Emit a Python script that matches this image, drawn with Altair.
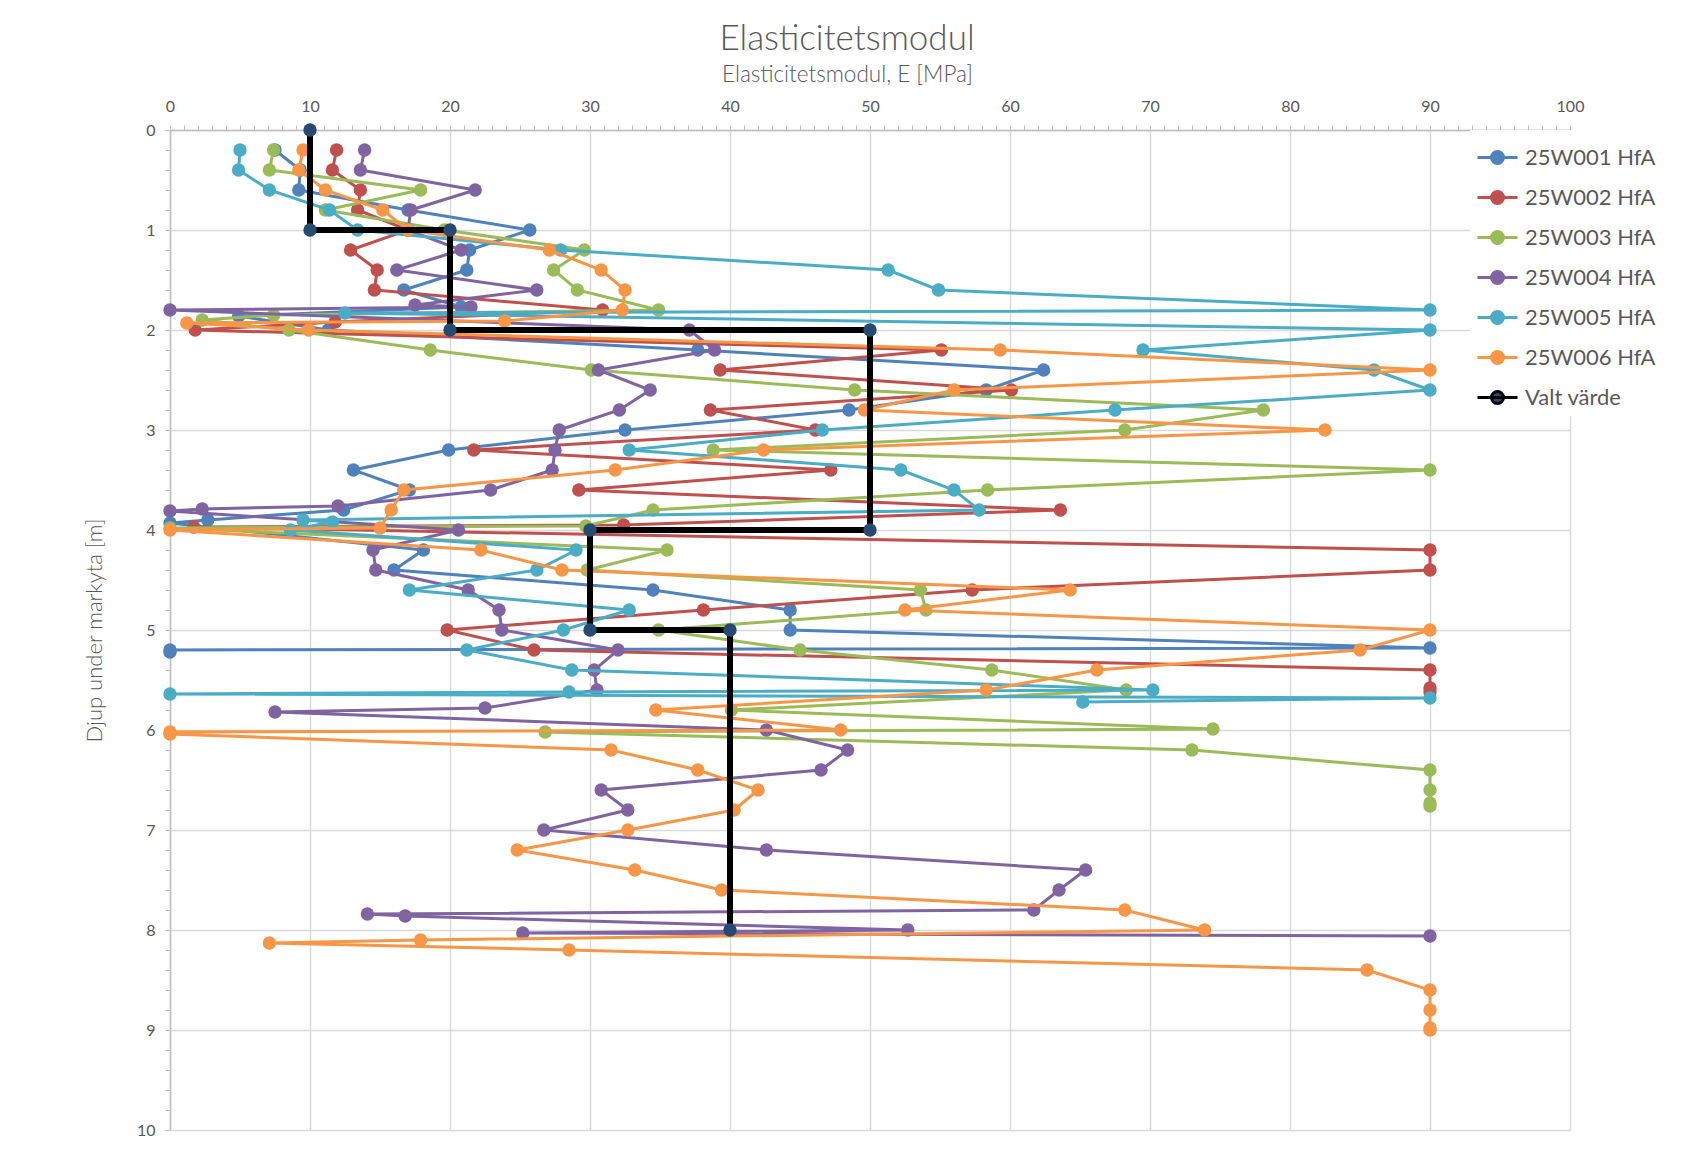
import altair as alt
import pandas as pd

SERIES = ["25W001 HfA", "25W002 HfA", "25W003 HfA", "25W004 HfA",
          "25W005 HfA", "25W006 HfA", "Valt värde"]
STROKES = ["#4F81BD", "#C0504D", "#9BBB59", "#8064A2", "#4BACC6", "#F79646", "#000000"]
FILLS = ["#4F81BD", "#C0504D", "#9BBB59", "#8064A2", "#4BACC6", "#F79646", "#264A70"]

# 25W001 HfA
d1 = [0.2, 0.4, 0.6, 0.8, 1.0, 1.2, 1.4, 1.6, 1.77, 1.86, 2.0, 2.2, 2.4, 2.6, 2.8, 3.0,
      3.2, 3.4, 3.6, 3.8, 3.9, 3.93, 4.2, 4.4, 4.6, 4.8, 5.0, 5.18, 5.2, 5.22]
e1 = [7.5, 9.3, 9.2, 17.0, 25.7, 21.4, 21.2, 16.7, 20.8, 4.9, 11.3, 37.7, 62.4, 58.3, 48.5, 32.5,
      19.9, 13.1, 17.1, 12.4, 2.7, 0.0, 18.1, 16.0, 34.5, 44.3, 44.3, 90.0, 0.0, 0.0]
# 25W002 HfA
d2 = [0.2, 0.4, 0.6, 0.8, 1.0, 1.2, 1.4, 1.6, 1.8, 1.92, 2.0, 2.2, 2.4, 2.6, 2.8, 3.0,
      3.2, 3.4, 3.6, 3.8, 3.95, 3.97, 4.2, 4.4, 4.6, 4.8, 5.0, 5.2, 5.4, 5.58, 5.62]
e2 = [11.9, 11.6, 13.6, 13.4, 17.0, 12.9, 14.8, 14.6, 30.9, 11.8, 1.8, 55.1, 39.3, 60.1, 38.6, 46.1,
      21.7, 47.2, 29.2, 63.6, 32.4, 1.7, 90.0, 90.0, 57.3, 38.1, 19.8, 26.0, 90.0, 90.0, 90.0]
# 25W003 HfA
d3 = [0.2, 0.4, 0.6, 0.8, 1.0, 1.2, 1.4, 1.6, 1.8, 1.85, 1.9, 2.0, 2.2, 2.4, 2.6, 2.8, 3.0,
      3.2, 3.4, 3.6, 3.8, 3.96, 3.98, 4.2, 4.4, 4.6, 4.8, 5.0, 5.2, 5.4, 5.6, 5.8, 5.99, 6.02,
      6.2, 6.4, 6.6, 6.73, 6.76]
e3 = [7.4, 7.1, 17.9, 11.1, 19.6, 29.6, 27.4, 29.1, 34.9, 7.4, 2.3, 8.5, 18.6, 30.1, 48.9, 78.1, 68.2,
      38.8, 90.0, 58.4, 34.5, 29.7, 0.0, 35.5, 29.8, 53.6, 54.0, 34.9, 45.0, 58.7, 68.3, 40.1, 74.5, 26.8,
      73.0, 90.0, 90.0, 90.0, 90.0]
# 25W004 HfA
d4 = [0.2, 0.4, 0.6, 0.8, 1.0, 1.2, 1.4, 1.6, 1.75, 1.77, 1.8, 2.0, 2.2, 2.4, 2.6, 2.8, 3.0,
      3.2, 3.4, 3.6, 3.76, 3.79, 3.81, 4.0, 4.2, 4.4, 4.6, 4.8, 5.0, 5.2, 5.4, 5.6, 5.78, 5.82,
      6.0, 6.2, 6.4, 6.6, 6.8, 7.0, 7.2, 7.4, 7.6, 7.8, 7.84, 7.86, 8.0, 8.03, 8.06]
e4 = [13.9, 13.6, 21.8, 17.2, 17.0, 20.8, 16.2, 26.2, 17.5, 21.5, 0.0, 37.1, 38.9, 30.6, 34.3, 32.1, 27.8,
      27.5, 27.3, 22.9, 12.0, 2.3, 0.0, 20.6, 14.5, 14.7, 21.3, 23.5, 23.7, 32.0, 30.3, 30.5, 22.5, 7.5,
      42.6, 48.4, 46.5, 30.8, 32.7, 26.7, 42.6, 65.4, 63.5, 61.7, 14.1, 16.8, 52.7, 25.2, 90.0]
# 25W005 HfA
d5 = [0.2, 0.4, 0.6, 0.8, 1.0, 1.2, 1.4, 1.6, 1.8, 1.83, 2.0, 2.2, 2.4, 2.6, 2.8, 3.0,
      3.2, 3.4, 3.6, 3.8, 3.9, 3.92, 4.0, 4.2, 4.4, 4.6, 4.8, 5.0, 5.2, 5.4, 5.6, 5.62, 5.64,
      5.68, 5.72]
e5 = [5.0, 4.9, 7.1, 11.4, 13.4, 27.9, 51.3, 54.9, 90.0, 12.5, 90.0, 69.5, 86.0, 90.0, 67.5, 46.6,
      32.8, 52.2, 56.0, 57.8, 9.5, 11.6, 8.6, 29.0, 26.2, 17.1, 32.8, 28.1, 21.2, 28.7, 70.2, 28.5, 0.0,
      90.0, 65.2]
# 25W006 HfA
d6 = [0.2, 0.4, 0.6, 0.8, 1.0, 1.2, 1.4, 1.6, 1.8, 1.91, 1.93, 2.0, 2.2, 2.4, 2.6, 2.8, 3.0,
      3.2, 3.4, 3.6, 3.8, 3.98, 4.0, 4.2, 4.4, 4.6, 4.8, 5.0, 5.2, 5.4, 5.6, 5.8, 6.0, 6.02, 6.04,
      6.2, 6.4, 6.6, 6.8, 7.0, 7.2, 7.4, 7.6, 7.8, 8.0, 8.1, 8.13, 8.2, 8.4, 8.6, 8.8, 8.98, 9.0]
e6 = [9.5, 9.2, 11.1, 15.2, 17.0, 27.1, 30.8, 32.5, 32.3, 23.9, 1.2, 9.9, 59.3, 90.0, 56.0, 49.6, 82.5,
      42.4, 31.8, 16.7, 15.8, 15.0, 0.0, 22.2, 28.0, 64.3, 52.5, 90.0, 85.0, 66.2, 58.3, 34.7, 47.9, 0.0, 0.0,
      31.5, 37.7, 42.0, 40.3, 32.7, 24.8, 33.2, 39.4, 68.2, 73.9, 17.9, 7.1, 28.5, 85.5, 90.0, 90.0, 90.0, 90.0]
# Valt värde
dv = [0, 1, 1, 2, 2, 4, 4, 5, 5, 8]
ev = [10, 10, 20, 20, 50, 50, 30, 30, 40, 40]

X_TICKS = list(range(0, 101))
Y_TICKS = [round(i * 0.2, 1) for i in range(51)]

rows = []
for name, ds, es in zip(SERIES, [d1, d2, d3, d4, d5, d6, dv], [e1, e2, e3, e4, e5, e6, ev]):
    for i, (d, e) in enumerate(zip(ds, es)):
        rows.append({"serie": name, "i": i, "djup": d, "E": e})
df = pd.DataFrame(rows)

FONT = "Lato"
GRAY = "#595959"
AXIS_GRAY = "#BFBFBF"
GRID = "#D9D9D9"

x_enc = alt.X(
    "E:Q",
    scale=alt.Scale(domain=[0, 100], nice=False, zero=False),
    axis=alt.Axis(
        orient="top", values=X_TICKS, title="Elasticitetsmodul, E [MPa]",
        labelExpr="datum.value % 10 === 0 ? datum.label : ''",
        gridOpacity={"condition": {"test": "datum.value % 10 === 0", "value": 1}, "value": 0},
        gridColor=GRID, gridWidth=1.5, domainColor=AXIS_GRAY, domainWidth=1.5,
        tickColor=AXIS_GRAY, tickSize=5, tickWidth=1,
        labelFont=FONT, labelFontSize=16, labelColor=GRAY, labelPadding=11,
        labelOverlap=False, labelFlush=False, labelBound=False,
        titleFont=FONT, titleFontSize=22.5, titleFontWeight=300, titleColor=GRAY,
        titlePadding=12, titleX=677,
    ),
)
y_test = "abs(datum.value - round(datum.value)) < 0.01"
y_enc = alt.Y(
    "djup:Q",
    scale=alt.Scale(domain=[0, 10], reverse=True, nice=False, zero=False),
    axis=alt.Axis(
        values=Y_TICKS, title="Djup under markyta [m]",
        labelExpr=y_test + " ? '' + round(datum.value) : ''",
        gridOpacity={"condition": {"test": y_test, "value": 1}, "value": 0},
        gridColor=GRID, gridWidth=1.5, domainColor=AXIS_GRAY, domainWidth=1.5,
        tickColor=AXIS_GRAY, tickSize=5, tickWidth=1,
        labelFont=FONT, labelFontSize=16, labelColor=GRAY, labelPadding=10,
        labelOverlap=False, labelFlush=False, labelBound=False,
        titleFont=FONT, titleFontSize=22, titleFontWeight=300, titleColor=GRAY,
        titlePadding=30,
    ),
)

legend = alt.Legend(
    title=None, orient="none", legendX=1300, legendY=0,
    fillColor="white", padding=6, rowPadding=6, zindex=1,
    symbolType="M-1,0L1,0M0.3,0A0.3,0.3,0,1,1,-0.3,0A0.3,0.3,0,1,1,0.3,0Z",
    symbolSize=1600, symbolStrokeWidth=3, symbolOpacity=1,
    labelFont=FONT, labelFontSize=22, labelColor=GRAY, labelOffset=6, labelLimit=300,
)
stroke_scale = alt.Scale(domain=SERIES, range=STROKES)
fill_scale = alt.Scale(domain=SERIES, range=FILLS)

base = alt.Chart()
layers = []
for name in SERIES:
    sub = base.transform_filter(alt.datum.serie == name)
    w = 6 if name == "Valt värde" else 3
    line = sub.mark_line(strokeWidth=w).encode(
        x=x_enc, y=y_enc, order=alt.Order("i:Q"),
        stroke=alt.Stroke("serie:N", scale=stroke_scale, legend=legend),
    )
    pts = sub.mark_circle(size=180, opacity=1).encode(
        x=x_enc, y=y_enc,
        fill=alt.Fill("serie:N", scale=fill_scale, legend=legend),
    )
    layers += [line, pts]

chart = alt.layer(*layers, data=df).properties(
    width=1400, height=1000,
    padding={"left": 75, "top": 14, "right": 5, "bottom": 5},
    title=alt.TitleParams(
        "Elasticitetsmodul", font=FONT, fontSize=35, fontWeight=300, color=GRAY,
        anchor="middle", dx=-23, offset=6,
    ),
).configure_view(strokeWidth=0)

chart.save("out.html", embed_options={"renderer": "svg", "actions": False})
